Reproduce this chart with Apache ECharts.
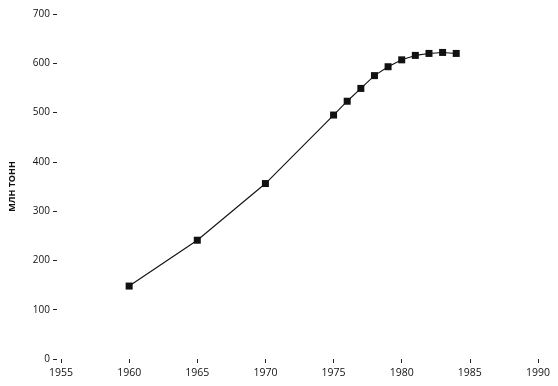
<!DOCTYPE html>
<html>
<head>
<meta charset="utf-8">
<script src="https://cdn.jsdelivr.net/npm/echarts@6/dist/echarts.min.js"></script>
<style>html,body{margin:0;padding:0;background:#fff}#c{width:558px;height:386px}</style>
</head>
<body>
<div id="c"></div>
<script>
const years = [1960, 1965, 1970, 1975, 1976, 1977, 1978, 1979, 1980, 1981, 1982, 1983, 1984];
const values = [148, 241, 356, 495, 523, 549, 575, 593, 607, 616, 620, 622, 620];
const yAxisTitle = 'МЛН ТОНН';

const chart = echarts.init(document.getElementById('c'), null, {renderer: 'canvas'});
const font = 'Open Sans';
chart.setOption({
  animation: false,
  backgroundColor: '#ffffff',
  grid: {left: 61, right: 20, top: 14, bottom: 27},
  xAxis: {
    type: 'value', min: 1955, max: 1990, interval: 5,
    axisLine: {show: false},
    axisTick: {show: true, length: 4, lineStyle: {color: '#222', width: 1}},
    axisLabel: {color: '#111', fontSize: 10.5, fontFamily: font, margin: 9, formatter: v => String(v)},
    splitLine: {show: false}
  },
  yAxis: {
    type: 'value', min: 0, max: 700, interval: 100,
    offset: 4,
    name: yAxisTitle, nameLocation: 'middle', nameGap: 40, nameRotate: 90,
    nameTextStyle: {color: '#111', fontSize: 9, fontFamily: font, fontWeight: 'bold'},
    axisLine: {show: false},
    axisTick: {show: true, length: 4, lineStyle: {color: '#222', width: 1}},
    axisLabel: {color: '#111', fontSize: 10, fontFamily: font, margin: 7},
    splitLine: {show: false}
  },
  series: [{
    type: 'line',
    data: years.map((y, i) => [y, values[i]]),
    symbol: 'rect', symbolSize: 7,
    itemStyle: {color: '#111'},
    lineStyle: {color: '#111', width: 1.1}
  }]
});
</script>
</body>
</html>
